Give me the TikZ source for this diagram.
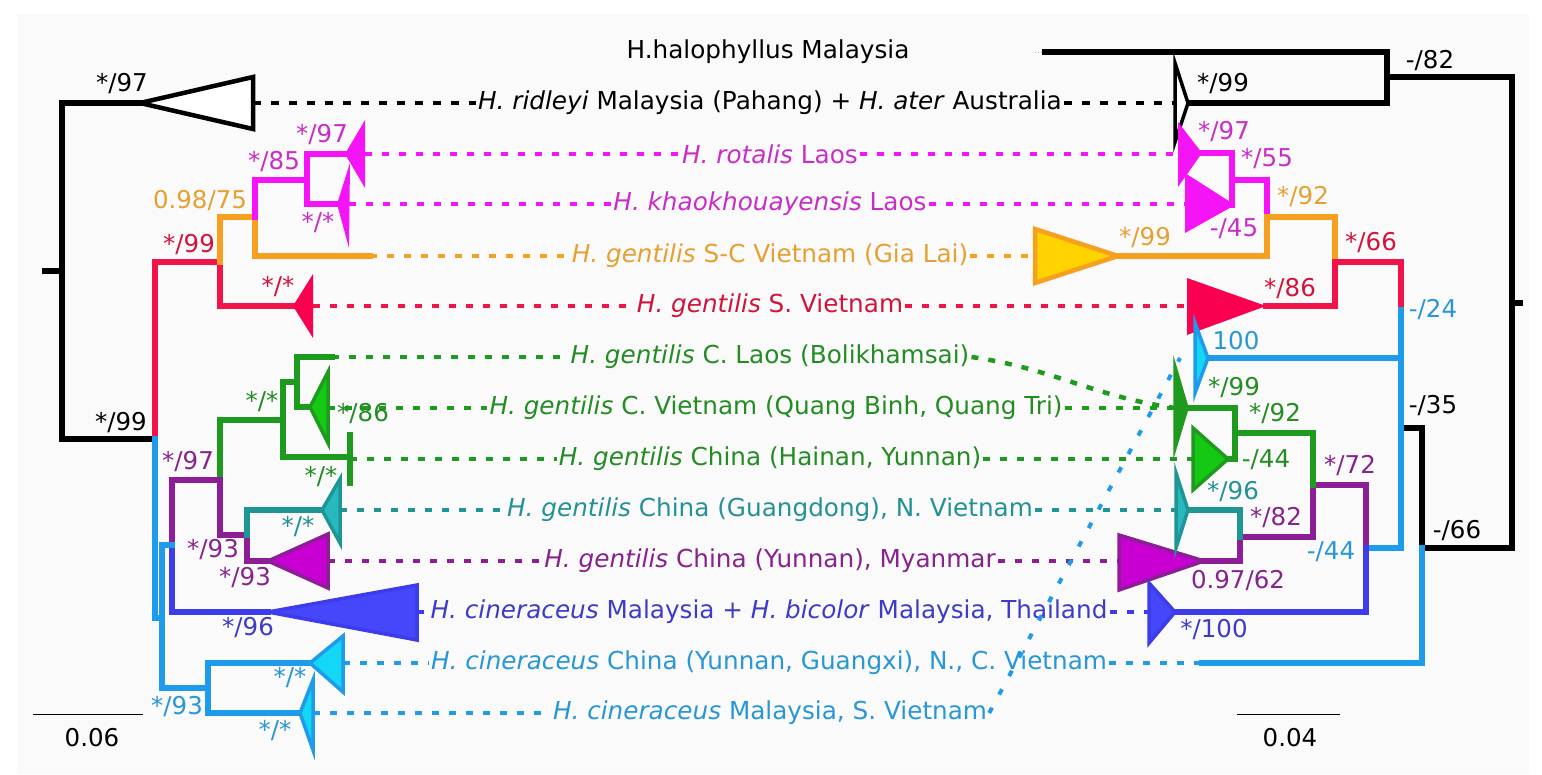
\documentclass[tikz,border=0pt]{standalone}
\usepackage{fontspec}
\setmainfont{DejaVu Sans}
\definecolor{bg}{RGB}{251,250,250}
\definecolor{mag}{RGB}{245,20,245}
\definecolor{magt}{RGB}{200,45,200}
\definecolor{org}{RGB}{245,160,30}
\definecolor{orgt}{RGB}{230,160,50}
\definecolor{yel}{RGB}{255,210,0}
\definecolor{rd}{RGB}{240,20,75}
\definecolor{rdt}{RGB}{210,20,60}
\definecolor{rdf}{RGB}{250,0,80}
\definecolor{grn}{RGB}{30,155,30}
\definecolor{grnf}{RGB}{20,200,20}
\definecolor{grnt}{RGB}{35,140,35}
\definecolor{tea}{RGB}{30,150,150}
\definecolor{teaf}{RGB}{40,185,190}
\definecolor{teat}{RGB}{35,145,150}
\definecolor{pur}{RGB}{140,30,150}
\definecolor{purf}{RGB}{200,0,210}
\definecolor{purt}{RGB}{135,35,140}
\definecolor{ind}{RGB}{60,60,235}
\definecolor{indf}{RGB}{70,70,250}
\definecolor{indt}{RGB}{60,60,200}
\definecolor{lb}{RGB}{30,155,235}
\definecolor{lbf}{RGB}{20,215,245}
\definecolor{lbt}{RGB}{40,150,215}
\begin{document}
\begin{tikzpicture}[x=1pt,y=-1pt,
  tree/.style={line width=5.5pt,line join=miter,line cap=rect},
  dsh/.style={line width=4.5pt,dash pattern=on 7pt off 10pt},
  bdsh/.style={line width=4.5pt,dash pattern=on 8pt off 10pt},
  dot/.style={line width=4pt,dash pattern=on 6pt off 15pt},
  tri/.style={line width=3.5pt,line join=miter},
  tax/.style={font=\fontsize{24.7}{29}\selectfont,inner sep=2pt},
  lab/.style={font=\fontsize{24.5}{29}\selectfont,inner sep=0pt}]
\useasboundingbox (0,0) rectangle (1542,774);
\fill[white] (0,0) rectangle (1542,774);
\fill[bg] (17,14) rectangle (1529,774);

% ---------- taxon labels ----------
\node[tax] (t0) at (768,52) {H.halophyllus Malaysia};
\node[tax] (t1) at (770,103) {\textit{H. ridleyi} Malaysia (Pahang) + \textit{H. ater} Australia};
\node[tax,text=magt] (t2) at (770,154) {\textit{H. rotalis} Laos};
\node[tax,text=magt] (t3) at (770,204) {\textit{H. khaokhouayensis} Laos};
\node[tax,text=orgt] (t4) at (770,256) {\textit{H. gentilis} S-C Vietnam (Gia Lai)};
\node[tax,text=rdt] (t5) at (770,306) {\textit{H. gentilis} S. Vietnam};
\node[tax,text=grnt] (t6) at (770,357) {\textit{H. gentilis} C. Laos (Bolikhamsai)};
\node[tax,text=grnt] (t7) at (776,408) {\textit{H. gentilis} C. Vietnam (Quang Binh, Quang Tri)};
\node[tax,text=grnt] (t8) at (770,459) {\textit{H. gentilis} China (Hainan, Yunnan)};
\node[tax,text=teat] (t9) at (770,510) {\textit{H. gentilis} China (Guangdong), N. Vietnam};
\node[tax,text=purt] (t10) at (770,561) {\textit{H. gentilis} China (Yunnan), Myanmar};
\node[tax,text=indt] (t11) at (769,612) {\textit{H. cineraceus} Malaysia + \textit{H. bicolor} Malaysia, Thailand};
\node[tax,text=lbt] (t12) at (769,663) {\textit{H. cineraceus} China (Yunnan, Guangxi), N., C. Vietnam};
\node[tax,text=lbt] (t13) at (770,713) {\textit{H. cineraceus} Malaysia, S. Vietnam};

% ---------- tip coordinates ----------
\coordinate (L1) at (253,103);  \coordinate (R1) at (1175,103);
\coordinate (L2) at (365,154);  \coordinate (R2) at (1178,154);
\coordinate (L3) at (349,204);  \coordinate (R3) at (1185,204);
\coordinate (L4) at (370,256);  \coordinate (R4) at (1035,256);
\coordinate (L5) at (313,306);  \coordinate (R5) at (1187,306);
\coordinate (L6) at (332,357);  \coordinate (R6) at (1175,408);
\coordinate (L7) at (328,408);  \coordinate (R7) at (1175,408);
\coordinate (L8) at (350,459);  \coordinate (R8) at (1193,459);
\coordinate (L9) at (340,510);  \coordinate (R9) at (1176,510);
\coordinate (L10) at (328,561); \coordinate (R10) at (1119,561);
\coordinate (L11) at (417,612); \coordinate (R11) at (1149,612);
\coordinate (L12) at (343,663); \coordinate (R12) at (1202,663);
\coordinate (L13) at (313,713); \coordinate (R13) at (1180,358);

% ---------- dashed connectors ----------
\draw[bdsh] (L1) -- (t1.west);  \draw[bdsh] (t1.east) -- (R1);
\draw[dsh,mag] (L2) -- (t2.west);  \draw[dsh,mag] (t2.east) -- (R2);
\draw[dsh,mag] (L3) -- (t3.west);  \draw[dsh,mag] (t3.east) -- (R3);
\draw[dsh,org] (L4) -- (t4.west);  \draw[dsh,org] (t4.east) -- (R4);
\draw[dsh,rd] (L5) -- (t5.west);   \draw[dsh,rd] (t5.east) -- (R5);
\draw[dsh,grn] (L6) -- (t6.west);  \draw[dsh,grn] (t6.east) to[out=-8,in=172] (R6);
\draw[dsh,grn] (L7) -- (t7.west);  \draw[dsh,grn] (t7.east) -- (R7);
\draw[dsh,grn] (L8) -- (t8.west);  \draw[dsh,grn] (t8.east) -- (R8);
\draw[dsh,tea] (L9) -- (t9.west);  \draw[dsh,tea] (t9.east) -- (R9);
\draw[dsh,pur] (L10) -- (t10.west); \draw[dsh,pur] (t10.east) -- (R10);
\draw[dsh,ind] (L11) -- (t11.west); \draw[dsh,ind] (t11.east) -- (R11);
\draw[dsh,lb] (L12) -- (t12.west);  \draw[dsh,lb] (t12.east) -- (R12);
\draw[dsh,lb] (L13) -- (t13.west);

% ================= LEFT TREE =================
\draw[tree] (45,271) -- (62,271);
\draw[tree] (140,103) -- (62,103) -- (62,439) -- (155,439);
\draw[tri,line width=4.5pt,fill=white] (140,103) -- (253,77) -- (253,129) -- cycle;
% red
\draw[tree,rd] (155,439) -- (155,262) -- (220,262) -- (220,306) -- (293,306);
\fill[rdf] (293,306) -- (313,274) -- (313,338) -- cycle;
% orange
\draw[tree,org] (220,262) -- (220,217) -- (255,217) -- (255,256) -- (370,256);
% magenta
\draw[tree,mag] (255,217) -- (255,180) -- (307,180);
\draw[tree,mag] (345,154) -- (307,154) -- (307,204) -- (337,204);
\fill[mag] (345,154) -- (365,120) -- (365,188) -- cycle;
\fill[mag] (337,204) -- (350,163) -- (349,248) -- cycle;
% green
\draw[tree,grn] (220,480) -- (220,420) -- (283,420);
\draw[tree,grn] (297,382) -- (283,382) -- (283,457) -- (350,457);
\draw[tree,grn] (332,357) -- (297,357) -- (297,407) -- (310,407);
\draw[tree,grn] (350,435) -- (350,483);
\draw[tri,grn,fill=grnf] (310,407) -- (328,372) -- (328,443) -- cycle;
% purple + teal
\draw[tree,pur] (172,545) -- (172,480) -- (220,480) -- (220,535) -- (247,535) -- (247,561) -- (268,561);
\draw[tri,pur,fill=purf] (268,561) -- (328,534) -- (328,588) -- cycle;
\draw[tree,tea] (247,535) -- (247,510) -- (322,510);
\draw[tri,tea,fill=teaf] (322,510) -- (340,479) -- (340,543) -- cycle;
% indigo
\draw[tree,ind] (172,545) -- (172,612) -- (268,612);
\draw[tri,ind,fill=indf] (268,612) -- (417,585) -- (417,640) -- cycle;
% light blue
\draw[tree,lb] (155,439) -- (155,618) -- (162,618);
\draw[tree,lb] (172,545) -- (162,545) -- (162,688) -- (208,688);
\draw[tree,lb] (310,663) -- (208,663) -- (208,713) -- (300,713);
\draw[tri,lb,fill=lbf] (310,663) -- (343,636) -- (343,692) -- cycle;
\draw[tri,lb,fill=lbf] (300,713) -- (313,680) -- (313,750) -- cycle;

% ================= RIGHT TREE =================
\draw[line width=1pt,gray!60,dotted] (1035,52) -- (1045,52);
\draw[tree] (1045,52) -- (1387,52) -- (1387,103) -- (1188,103);
\draw[tree] (1387,77) -- (1512,77) -- (1512,548) -- (1422,548) -- (1422,428) -- (1401,428);
\draw[tree] (1512,303) -- (1520,303);
\draw[tri,fill=white] (1188,103) -- (1175,63) -- (1175,142) -- cycle;
% magenta
\draw[tree,mag] (1202,153) -- (1232,153) -- (1232,205);
\draw[tree,mag] (1232,180) -- (1267,180) -- (1267,217);
\fill[mag] (1202,153) -- (1178,122) -- (1178,187) -- cycle;
\fill[mag] (1235,205) -- (1185,173) -- (1185,233) -- cycle;
% orange
\draw[tree,org] (1118,256) -- (1267,256) -- (1267,217) -- (1335,217) -- (1335,262);
\draw[tri,org,line width=4.5pt,fill=yel] (1118,256) -- (1035,229) -- (1035,283) -- cycle;
% red
\draw[tree,rd] (1266,306) -- (1335,306) -- (1335,262) -- (1401,262) -- (1401,310);
\fill[rdf] (1266,306) -- (1187,278) -- (1187,335) -- cycle;
% light blue
\draw[tree,lb] (1401,310) -- (1401,548) -- (1366,548);
\draw[tree,lb] (1208,358) -- (1401,358);
\draw[tree,lb] (1422,548) -- (1422,663) -- (1202,663);
\draw[tri,lb,fill=lbf] (1208,358) -- (1195,323) -- (1195,393) -- cycle;
% purple / indigo / teal
\draw[tree,pur] (1366,548) -- (1366,485) -- (1313,485) -- (1313,537) -- (1240,537) -- (1240,561) -- (1204,561);
\draw[tri,pur,fill=purf] (1204,561) -- (1119,535) -- (1119,590) -- cycle;
\draw[tree,ind] (1366,548) -- (1366,612) -- (1175,612);
\draw[tri,ind,fill=indf] (1175,612) -- (1149,583) -- (1149,643) -- cycle;
\draw[tree,tea] (1240,537) -- (1240,510) -- (1188,510);
\draw[tri,tea,fill=teaf] (1188,510) -- (1176,473) -- (1176,548) -- cycle;
% green
\draw[tree,grn] (1313,485) -- (1313,433) -- (1235,433);
\draw[tree,grn] (1187,408) -- (1235,408) -- (1235,459) -- (1228,459);
\draw[tri,grn,fill=grn] (1187,408) -- (1175,367) -- (1175,448) -- cycle;
\draw[tri,grn,fill=grnf] (1228,459) -- (1193,428) -- (1193,490) -- cycle;

% diagonal dotted connector
\draw[dot,lb] (t13.east) -- (R13);

% ---------- support values ----------
\node[lab] (a1) at (122,84) {*/97};
\node[lab] (a2) at (121,423) {*/99};
\node[lab,text=rdt] (a3) at (189,245) {*/99};
\node[lab,text=rdt] (a4) at (278,287) {*/*};
\node[lab,text=orgt] (a5) at (200,201) {0.98/75};
\node[lab,text=magt] (a6) at (274,162) {*/85};
\node[lab,text=magt] (a7) at (322,135) {*/97};
\node[lab,text=magt] (a8) at (318,223) {*/*};
\node[lab,text=grnt] (a9) at (262,402) {*/*};
\node[lab,text=grnt] (a10) at (363,414) {*/86};
\node[lab,text=grnt] (a11) at (321,477) {*/*};
\node[lab,text=purt] (a12) at (188,462) {*/97};
\node[lab,text=purt] (a13) at (213,550) {*/93};
\node[lab,text=purt] (a14) at (245,578) {*/93};
\node[lab,text=teat] (a15) at (298,527) {*/*};
\node[lab,text=indt] (a16) at (248,628) {*/96};
\node[lab,text=lbt] (a17) at (177,707) {*/93};
\node[lab,text=lbt] (a18) at (290,678) {*/*};
\node[lab,text=lbt] (a19) at (275,731) {*/*};
\node[lab] (b1) at (1223,84) {*/99};
\node[lab] (b2) at (1430,61) {-/82};
\node[lab] (b3) at (1433,406) {-/35};
\node[lab] (b4) at (1457,531) {-/66};
\node[lab,text=magt] (b5) at (1224,132) {*/97};
\node[lab,text=magt] (b6) at (1267,159) {*/55};
\node[lab,text=magt] (b7) at (1234,229) {-/45};
\node[lab,text=orgt] (b8) at (1303,197) {*/92};
\node[lab,text=orgt] (b9) at (1145,238) {*/99};
\node[lab,text=rdt] (b10) at (1371,243) {*/66};
\node[lab,text=rdt] (b11) at (1290,289) {*/86};
\node[lab,text=lbt] (b12) at (1433,310) {-/24};
\node[lab,text=lbt] (b13) at (1236,341) {100};
\node[lab,text=lbt] (b14) at (1331,552) {-/44};
\node[lab,text=grnt] (b15) at (1234,388) {*/99};
\node[lab,text=grnt] (b16) at (1275,414) {*/92};
\node[lab,text=grnt] (b17) at (1266,460) {-/44};
\node[lab,text=purt] (b18) at (1350,466) {*/72};
\node[lab,text=purt] (b19) at (1276,518) {*/82};
\node[lab,text=purt] (b20) at (1238,581) {0.97/62};
\node[lab,text=teat] (b21) at (1233,492) {*/96};
\node[lab,text=indt] (b22) at (1214,630) {*/100};

% ---------- scale bars ----------
\draw[line width=1pt] (33,714) -- (143,714);
\node[lab] (s1) at (92,738) {0.06};
\draw[line width=1pt] (1237,714) -- (1340,714);
\node[lab] (s2) at (1290,738) {0.04};
\end{tikzpicture}
\end{document}
